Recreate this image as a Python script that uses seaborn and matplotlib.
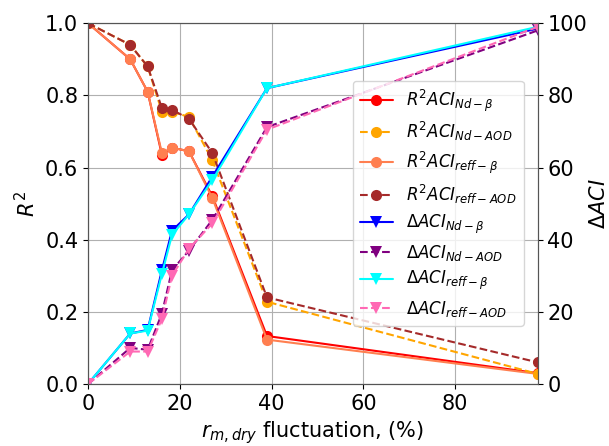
import numpy as np
import pandas as pd
import matplotlib
matplotlib.use("Agg")
import matplotlib.pyplot as plt
import seaborn as sns

x = [0, 9.2, 13, 16.1, 18.3, 22, 27.1, 39, 98]

r2_nd_beta = [1.0, 0.90, 0.81, 0.635, 0.655, 0.645, 0.52, 0.133, 0.03]
r2_nd_aod = [1.0, 0.94, 0.88, 0.755, 0.755, 0.74, 0.62, 0.228, 0.028]
r2_reff_beta = [1.0, 0.90, 0.81, 0.64, 0.655, 0.645, 0.515, 0.123, 0.028]
r2_reff_aod = [1.0, 0.94, 0.88, 0.765, 0.76, 0.735, 0.64, 0.24, 0.06]

d_nd_beta = [0, 14, 15, 31.5, 42.5, 47, 57.5, 82, 98.5]
d_nd_aod = [0, 10, 9.5, 19.5, 31.5, 37, 45.5, 71.2, 98]
d_reff_beta = [0, 14, 14.8, 30.5, 41.3, 47, 56.5, 82, 99]
d_reff_aod = [0, 9, 9, 18, 30, 37.5, 44.5, 70.5, 99]

labels_r2 = [r'$R^2ACI_{Nd-\beta}$', r'$R^2ACI_{Nd-AOD}$',
             r'$R^2ACI_{reff-\beta}$', r'$R^2ACI_{reff-AOD}$']
labels_d = [r'$\Delta ACI_{Nd-\beta}$', r'$\Delta ACI_{Nd-AOD}$',
            r'$\Delta ACI_{reff-\beta}$', r'$\Delta ACI_{reff-AOD}$']

sns.set_style("ticks")
plt.rcParams['font.family'] = ['DejaVu Sans']
plt.rcParams['text.color'] = 'black'
plt.rcParams['axes.labelcolor'] = 'black'
plt.rcParams['xtick.color'] = 'black'
plt.rcParams['ytick.color'] = 'black'

fig = plt.figure(figsize=(6.09, 4.46), dpi=100)
ax = fig.add_axes([0.1445, 0.139, 0.7385, 0.809])
ax2 = ax.twinx()

r2_series = [r2_nd_beta, r2_nd_aod, r2_reff_beta, r2_reff_aod]
r2_colors = ['red', 'orange', 'coral', 'brown']
r2_ls = ['-', '--', '-', '--']
d_series = [d_nd_beta, d_nd_aod, d_reff_beta, d_reff_aod]
d_colors = ['blue', 'purple', 'cyan', 'hotpink']
d_ls = ['-', '--', '-', '--']

# draw order: red, coral over red; orange, brown over orange
for i in [0, 2, 1, 3]:
    sns.lineplot(x=x, y=r2_series[i], ax=ax, color=r2_colors[i], linestyle=r2_ls[i],
                 marker='o', markersize=8, markeredgewidth=0, label=labels_r2[i],
                 legend=False, sort=False, linewidth=1.5)
for i in [0, 1, 2, 3]:
    sns.lineplot(x=x, y=d_series[i], ax=ax2, color=d_colors[i], linestyle=d_ls[i],
                 marker='v', markersize=8, markeredgewidth=0, label=labels_d[i],
                 legend=False, sort=False, linewidth=1.5)

ax.set_xlim(0, 98)
ax.set_ylim(0, 1.0)
ax2.set_ylim(0, 100)
ax.set_xticks([0, 20, 40, 60, 80])
ax.set_yticks([0, 0.2, 0.4, 0.6, 0.8, 1.0])
ax2.set_yticks([0, 20, 40, 60, 80, 100])
ax.grid(True, color='#b0b0b0', linewidth=0.8)
ax.tick_params(labelsize=15)
ax2.tick_params(labelsize=15)
for a in (ax, ax2):
    for s in a.spines.values():
        s.set_color('#555555')

ax.set_xlabel(r'$r_{m,dry}$ fluctuation, (%)', fontsize=15)
ax.set_ylabel(r'$R^2$', fontsize=15)
ax2.set_ylabel(r'$\Delta ACI$', fontsize=15, labelpad=1)

h1, l1 = ax.get_legend_handles_labels()
h2, l2 = ax2.get_legend_handles_labels()
order = [0, 2, 1, 3]
handles = [None]*4
labs = [None]*4
for k, i in enumerate(order):
    handles[i] = h1[k]
    labs[i] = l1[k]
ax2.legend(handles + h2, labs + l2, loc='upper left',
           bbox_to_anchor=(0.566, 0.838), bbox_transform=fig.transFigure,
           fontsize=12, framealpha=0.8, labelspacing=0.4)

fig.savefig('out.png', dpi=100)
